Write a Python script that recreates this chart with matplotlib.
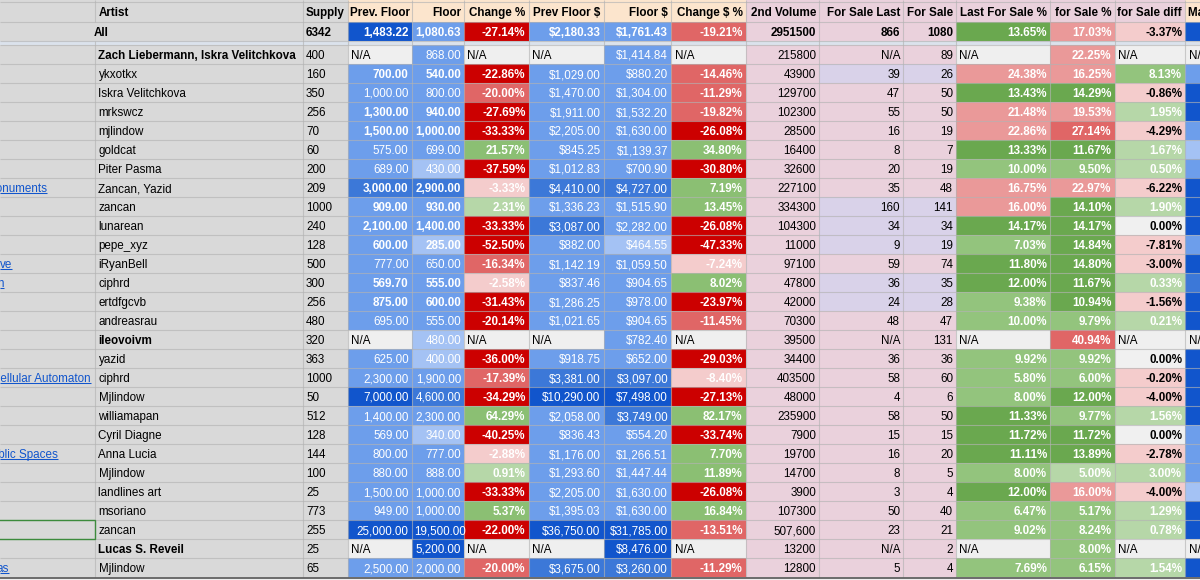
import matplotlib
matplotlib.use("Agg")
import matplotlib.pyplot as plt
from matplotlib.patches import Rectangle
from matplotlib.transforms import Bbox
from matplotlib.collections import LineCollection

plt.rcParams['font.family'] = ['Liberation Sans', 'DejaVu Sans']

# ---------------- data ----------------
headers = ["", "Artist", "Supply", "Prev. Floor", "Floor", "Change %", "Prev Floor $",
           "Floor $", "Change $ %", "2nd Volume", "For Sale Last", "For Sale",
           "Last For Sale %", "for Sale %", "for Sale diff", "Market Cap"]

artists = ["All", "Zach Liebermann, Iskra Velitchkova", "ykxotkx", "Iskra Velitchkova", "mrkswcz",
           "mjlindow", "goldcat", "Piter Pasma", "Zancan, Yazid", "zancan", "lunarean", "pepe_xyz",
           "iRyanBell", "ciphrd", "ertdfgcvb", "andreasrau", "ileovoivm", "yazid", "ciphrd",
           "Mjlindow", "williamapan", "Cyril Diagne", "Anna Lucia", "Mjlindow", "landlines art",
           "msoriano", "zancan", "Lucas S. Reveil", "Mjlindow"]
supply = [6342, 400, 160, 350, 256, 70, 60, 200, 209, 1000, 240, 128, 500, 300, 256, 480, 320,
          363, 1000, 50, 512, 128, 144, 100, 25, 773, 255, 25, 65]
prev_floor = [1483.22, None, 700, 1000, 1300, 1500, 575, 689, 3000, 909, 2100, 600, 777, 569.70,
              875, 695, None, 625, 2300, 7000, 1400, 569, 800, 880, 1500, 949, 25000, None, 2500]
floor = [1080.63, 868, 540, 800, 940, 1000, 699, 430, 2900, 930, 1400, 285, 650, 555, 600, 555,
         480, 400, 1900, 4600, 2300, 340, 777, 888, 1000, 1000, 19500, 5200, 2000]
change_pct = [-27.14, None, -22.86, -20.00, -27.69, -33.33, 21.57, -37.59, -3.33, 2.31, -33.33,
              -52.50, -16.34, -2.58, -31.43, -20.14, None, -36.00, -17.39, -34.29, 64.29, -40.25,
              -2.88, 0.91, -33.33, 5.37, -22.00, None, -20.00]
prev_floor_usd = [2180.33, None, 1029.00, 1470.00, 1911.00, 2205.00, 845.25, 1012.83, 4410.00,
                  1336.23, 3087.00, 882.00, 1142.19, 837.46, 1286.25, 1021.65, None, 918.75,
                  3381.00, 10290.00, 2058.00, 836.43, 1176.00, 1293.60, 2205.00, 1395.03,
                  36750.00, None, 3675.00]
floor_usd = [1761.43, 1414.84, 880.20, 1304.00, 1532.20, 1630.00, 1139.37, 700.90, 4727.00,
             1515.90, 2282.00, 464.55, 1059.50, 904.65, 978.00, 904.65, 782.40, 652.00, 3097.00,
             7498.00, 3749.00, 554.20, 1266.51, 1447.44, 1630.00, 1630.00, 31785.00, 8476.00,
             3260.00]
change_usd_pct = [-19.21, None, -14.46, -11.29, -19.82, -26.08, 34.80, -30.80, 7.19, 13.45, -26.08,
                  -47.33, -7.24, 8.02, -23.97, -11.45, None, -29.03, -8.40, -27.13, 82.17, -33.74,
                  7.70, 11.89, -26.08, 16.84, -13.51, None, -11.29]
volume_2nd = [2951500, 215800, 43900, 129700, 102300, 28500, 16400, 32600, 227100, 334300, 104300,
              11000, 97100, 47800, 42000, 70300, 39500, 34400, 403500, 48000, 235900, 7900, 19700,
              14700, 3900, 107300, 507600, 13200, 12800]
for_sale_last = [866, None, 39, 47, 55, 16, 8, 20, 35, 160, 34, 9, 59, 36, 24, 48, None, 36, 58, 4,
                 58, 15, 16, 8, 3, 50, 23, None, 5]
for_sale = [1080, 89, 26, 50, 50, 19, 7, 19, 48, 141, 34, 19, 74, 35, 28, 47, 131, 36, 60, 6, 50,
            15, 20, 5, 4, 40, 21, 2, 4]
last_for_sale_pct = [13.65, None, 24.38, 13.43, 21.48, 22.86, 13.33, 10.00, 16.75, 16.00, 14.17,
                     7.03, 11.80, 12.00, 9.38, 10.00, None, 9.92, 5.80, 8.00, 11.33, 11.72, 11.11,
                     8.00, 12.00, 6.47, 9.02, None, 7.69]
for_sale_pct = [17.03, 22.25, 16.25, 14.29, 19.53, 27.14, 11.67, 9.50, 22.97, 14.10, 14.17, 14.84,
                14.80, 11.67, 10.94, 9.79, 40.94, 9.92, 6.00, 12.00, 9.77, 11.72, 13.89, 5.00,
                16.00, 5.17, 8.24, 8.00, 6.15]
for_sale_diff = [-3.37, None, 8.13, -0.86, 1.95, -4.29, 1.67, 0.50, -6.22, 1.90, 0.00, -7.81,
                 -3.00, 0.33, -1.56, 0.21, None, 0.00, -0.20, -4.00, 1.56, 0.00, -2.78, 3.00,
                 -4.00, 1.29, 0.78, None, 1.54]
project_links = [(8, "Monuments"), (12, "ve"), (13, "n"), (18, "Cellular Automaton"),
                 (22, "Public Spaces"), (28, "as")]

# ---------------- styles ----------------
ma_shade = ['dark', 'na', 'mid', 'dark', 'dark', 'mid', 'light', 'mid', 'dark', 'dark', 'dark',
            'mid', 'dark', 'md', 'dark', 'dark', 'na', 'dark', 'dark', 'dark', 'dark', 'mid',
            'mid', 'mid', 'light', 'dark', 'dark', 'na', 'dark']
link_right = [47, 12, 3.5, 91, 58, 8.5]
bold_floor_rows = {2, 4, 5, 8, 9, 10, 11, 13, 14}
bold_artist_rows = {1, 16, 27}
lavender_rows = {2, 9, 10, 11, 13, 14}
comma_volume_rows = {26}
selected_row = 26

GRAY = '#d9d9d9'; PEACH = '#fce5cd'; PINK = '#ead1dc'; LAV = '#d9d2e9'; NA = '#efefef'
SEP = '#dbe2ec'
BLUE = {'light': '#a4c2f4', 'mid': '#6d9eeb', 'md': '#3c78d8', 'dark': '#1155cc', 'na': NA}

def blue_floor(v):
    if v < 500: return BLUE['light']
    if v < 2800: return BLUE['mid']
    if v < 5000: return BLUE['md']
    return BLUE['dark']

def blue_usd(v):
    if v < 500: return BLUE['light']
    if v < 3000: return BLUE['mid']
    if v < 5000: return BLUE['md']
    return BLUE['dark']

def chg_color(v):
    if v < -20: return '#cc0000'
    if v < -10: return '#e06666'
    if v < 0: return '#f4cccc'
    if v <= 5: return '#b6d7a8'
    return '#8bbf73'

def fs_color(v):
    if v > 25: return '#e06666'
    if v > 15: return '#ea9999'
    if v > 10: return '#6aa84f'
    if v > 5: return '#93c47d'
    return '#b6d7a8'

def diff_color(v):
    if v > 5: return '#93c47d'
    if v > 0: return '#b6d7a8'
    if v == 0: return '#f0f0f0'
    return '#f4cccc'

# ---------------- figure ----------------
W, H = 1200, 580
DPI = 100
FS = 8.4
fig = plt.figure(figsize=(W / DPI, H / DPI), dpi=DPI)
ax = fig.add_axes([0, 0, 1, 1])
ax.set_xlim(0, W); ax.set_ylim(H, 0); ax.axis('off')
renderer = fig.canvas.get_renderer()

colx = [-100, 95, 302.5, 347.5, 411.5, 464, 528.5, 603.5, 671, 745.5, 819, 903, 956, 1050,
        1114.5, 1185, 1300]
HEAD = (0, 22)
SEP_Y = (41, 45)

def row_span(r):
    if r == 0:
        return (22, 41)
    y0 = 45 + 19 * (r - 1)
    return (y0, y0 + 19)

def fill(ci, y0, y1, color, cspan=1):
    ax.add_patch(Rectangle((colx[ci], y0), colx[ci + cspan] - colx[ci], y1 - y0,
                           facecolor=color, edgecolor='none', zorder=1))

def put(ci, y0, y1, s, align='right', color='black', bold=False, baseline=None, cspan=1):
    x0, x1 = colx[ci], colx[ci + cspan]
    yb = (y1 - 5) if baseline is None else baseline
    if align == 'right':
        t = ax.text(x1 - 3, yb, s, ha='right', va='baseline', fontsize=FS, color=color,
                    fontweight='bold' if bold else 'normal', zorder=5)
        w = t.get_window_extent(renderer).width
        if w > (x1 - x0) - 5:
            t.set_x(x0 + 3); t.set_ha('left')
    elif align == 'center':
        t = ax.text((x0 + x1) / 2, yb, s, ha='center', va='baseline', fontsize=FS,
                    color=color, fontweight='bold' if bold else 'normal', zorder=5)
    else:
        t = ax.text(x0 + 3.5, yb, s, ha='left', va='baseline', fontsize=FS, color=color,
                    fontweight='bold' if bold else 'normal', zorder=5)
    p = ax.transData.transform([[x0, y0], [x1, y1]])
    t.set_clip_box(Bbox.from_extents(min(p[0][0], p[1][0]), min(p[0][1], p[1][1]),
                                     max(p[0][0], p[1][0]), max(p[0][1], p[1][1])))
    return t

# header
for ci in range(16):
    if ci <= 2:
        c = GRAY
    elif ci <= 8 or ci == 15:
        c = PEACH
    else:
        c = PINK
    fill(ci, HEAD[0], HEAD[1], c)
for ci in range(1, 16):
    h = headers[ci]
    align = 'left' if ci in (1, 2, 15) else 'right'
    put(ci, HEAD[0], HEAD[1], h, align=align, bold=True, baseline=16)

# separator
ax.add_patch(Rectangle((-40, SEP_Y[0]), W + 80, SEP_Y[1] - SEP_Y[0], facecolor=SEP,
                       edgecolor='none', zorder=1))

fnum = lambda v: f"{v:,.2f}"
fusd = lambda v: f"${v:,.2f}"
fpct = lambda v: f"{v:.2f}%"

n = len(artists)
for r in range(n):
    y0, y1 = row_span(r)
    allrow = (r == 0)
    if allrow:
        fill(0, y0, y1, GRAY, cspan=2)
        put(0, y0, y1, artists[r], align='center', bold=True, cspan=2)
    else:
        fill(0, y0, y1, GRAY)
        fill(1, y0, y1, GRAY)
        put(1, y0, y1, artists[r], align='left', bold=(r in bold_artist_rows))
    fill(2, y0, y1, GRAY)
    put(2, y0, y1, str(supply[r]), align='left', bold=allrow)

    bf = allrow or (r in bold_floor_rows)
    for ci, vals in ((3, prev_floor), (4, floor)):
        v = vals[r]
        if v is None:
            fill(ci, y0, y1, NA); put(ci, y0, y1, "N/A", align='left')
        else:
            c = blue_floor(v)
            if allrow and ci == 3:
                c = BLUE['dark']
            fill(ci, y0, y1, c); put(ci, y0, y1, fnum(v), color='white', bold=bf)
    for ci, vals in ((6, prev_floor_usd), (7, floor_usd)):
        v = vals[r]
        if v is None:
            fill(ci, y0, y1, NA); put(ci, y0, y1, "N/A", align='left')
        else:
            fill(ci, y0, y1, blue_usd(v)); put(ci, y0, y1, fusd(v), color='white', bold=allrow)
    for ci, vals in ((5, change_pct), (8, change_usd_pct)):
        v = vals[r]
        if v is None:
            fill(ci, y0, y1, NA); put(ci, y0, y1, "N/A", align='left')
        else:
            fill(ci, y0, y1, chg_color(v)); put(ci, y0, y1, fpct(v), color='white', bold=True)
    fill(9, y0, y1, PINK)
    vs = f"{volume_2nd[r]:,}" if r in comma_volume_rows else str(volume_2nd[r])
    put(9, y0, y1, vs, bold=allrow)
    cc = LAV if r in lavender_rows else PINK
    for ci, vals in ((10, for_sale_last), (11, for_sale)):
        v = vals[r]
        fill(ci, y0, y1, cc)
        put(ci, y0, y1, "N/A" if v is None else str(v), bold=allrow)
    for ci, vals in ((12, last_for_sale_pct), (13, for_sale_pct)):
        v = vals[r]
        if v is None:
            fill(ci, y0, y1, NA); put(ci, y0, y1, "N/A", align='left')
        else:
            fill(ci, y0, y1, fs_color(v)); put(ci, y0, y1, fpct(v), color='white', bold=True)
    v = for_sale_diff[r]
    if v is None:
        fill(14, y0, y1, NA); put(14, y0, y1, "N/A", align='left')
    else:
        fill(14, y0, y1, diff_color(v))
        put(14, y0, y1, fpct(v), color='white' if v > 0 else 'black', bold=True)
    fill(15, y0, y1, BLUE[ma_shade[r]])
    if ma_shade[r] == 'na':
        put(15, y0, y1, "N/A", align='left')

# links in the first (partly hidden) column
for (r, label), xr in zip(project_links, link_right):
    y0, y1 = row_span(r)
    t = ax.text(xr, y1 - 5, label, ha='right', va='baseline', fontsize=FS, color='#1155cc',
                zorder=5)
    bb = t.get_window_extent(renderer)
    xl = ax.transData.inverted().transform((bb.x0, 0))[0]
    ax.plot([max(0, xl), xr], [y1 - 3.8, y1 - 3.8], color='#1155cc', lw=0.75, zorder=5,
            solid_capstyle='butt')

# grid lines
segs = []
bottom = row_span(n - 1)[1]
for x in colx[1:-1]:
    if x == 95:
        segs.append([(x, 0), (x, 22)])
        segs.append([(x, 41), (x, bottom)])
    else:
        segs.append([(x, 0), (x, bottom)])
ys = [2, 22, 41, 45] + [row_span(r)[1] for r in range(1, n - 1)]
for y in ys:
    segs.append([(0, y), (W, y)])
ax.add_collection(LineCollection(segs, colors=[(0.70, 0.70, 0.70, 0.65)], linewidths=0.8,
                                 zorder=3))

# selection border
ys0, ys1 = row_span(selected_row)
ax.add_patch(Rectangle((-3, ys0), 98, ys1 - ys0, facecolor='none', edgecolor='#3d8b3d',
                       lw=1.0, zorder=6))

# bottom edge
ax.add_patch(Rectangle((0, bottom), W, H - bottom + 2, facecolor='#eeeeee', edgecolor='none',
                       zorder=2))
ax.plot([0, W], [bottom + 0.5, bottom + 0.5], color='#555555', lw=1.2, zorder=6)

fig.savefig("out.png", dpi=DPI)
